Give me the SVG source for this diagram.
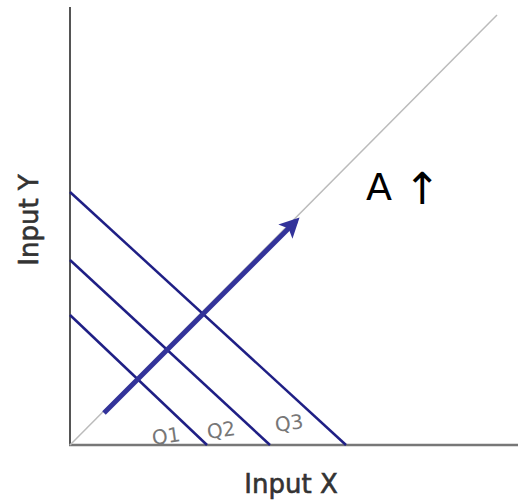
<svg xmlns="http://www.w3.org/2000/svg" width="518" height="500" viewBox="0 0 518 500">
<style>
.axis{stroke:#555;stroke-width:2;fill:none}
.iso{stroke:#1f1f85;stroke-width:2.5;fill:none}
.lbl{font-family:"DejaVu Sans","Liberation Sans",sans-serif;fill:#333;stroke:#333;stroke-width:0.6}
.q{font-family:"DejaVu Sans","Liberation Sans",sans-serif;fill:#777;font-size:20px}
</style>
<defs>
<marker id="ah" markerWidth="4" markerHeight="4" refX="3" refY="2" orient="auto" markerUnits="strokeWidth">
<path d="M0,0 L4,2 L0,4 L0.9,2 Z" fill="#33339a"/>
</marker>
</defs>
<rect width="518" height="500" fill="#fff"/>
<g id="axes">
<line class="axis" x1="70" y1="7" x2="70" y2="446"/>
<line x1="69" y1="445" x2="518" y2="445" stroke="#777" stroke-width="2.5"/>
</g>
<g id="connectors">
<line x1="70" y1="445" x2="497" y2="15" stroke="#bbb" stroke-width="1.5"/>
<line class="iso" x1="70" y1="192" x2="346" y2="445"/>
<line class="iso" x1="70" y1="260" x2="270" y2="445"/>
<line class="iso" x1="70" y1="315" x2="207" y2="445"/>
<line x1="104" y1="413" x2="296" y2="221" stroke="#33339a" stroke-width="5" marker-end="url(#ah)"/>
</g>
<g id="labels">
<text class="q" x="152" y="443" transform="rotate(-8 167 437)">Q1</text>
<text class="q" x="207" y="437" transform="rotate(-8 222 431)">Q2</text>
<text class="q" x="275" y="430" transform="rotate(-8 290 424)">Q3</text>
<text x="366" y="200" font-family="DejaVu Sans,sans-serif" font-size="38" fill="#000">A <tspan font-size="44" dy="4">↑</tspan></text>
<text class="lbl" x="291" y="493" font-size="26" text-anchor="middle">Input X</text>
<text class="lbl" font-size="26" text-anchor="middle" transform="translate(38 220) rotate(-90)">Input Y</text>
</g>
</svg>
